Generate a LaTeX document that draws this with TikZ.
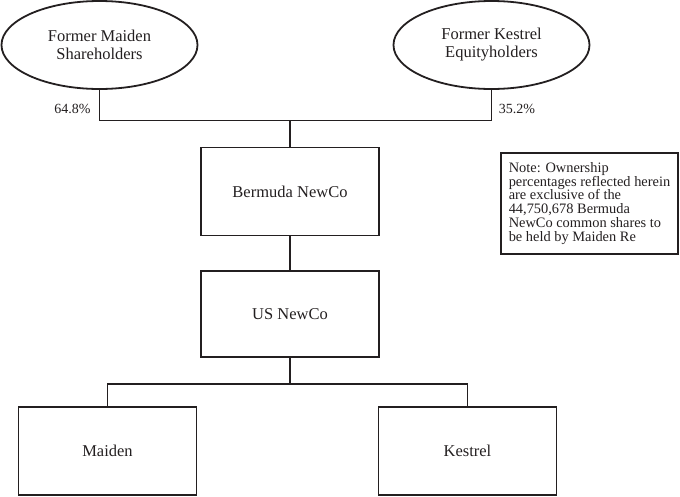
\documentclass[tikz,border=0pt]{standalone}
\usepackage{fontspec}
\setmainfont{Liberation Serif}
\usetikzlibrary{shapes.geometric}
\definecolor{ink}{HTML}{231F20}
\begin{document}
\begin{tikzpicture}[x=1pt,y=-1pt,
  owner/.style={ellipse,draw=ink,line width=1.8pt,minimum width=196pt,minimum height=88pt,inner sep=0pt,align=center,text=ink,font=\fontsize{16.5}{18}\selectfont},
  entity/.style={rectangle,draw=ink,line width=1.8pt,minimum width=178pt,minimum height=88pt,inner sep=0pt,align=center,text=ink,font=\fontsize{16.5}{18}\selectfont},
  pct/.style={text=ink,font=\fontsize{14}{16}\selectfont,inner sep=0pt},
  link/.style={draw=ink,line width=1.5pt},
  notebox/.style={rectangle,draw=ink,line width=1.8pt,minimum width=177pt,minimum height=101pt,inner xsep=8pt,inner ysep=0pt,align=left,text=ink,font=\fontsize{14.4}{13.9}\selectfont}
]
\useasboundingbox (0,0) rectangle (680,496);
\node[owner] (fm) at (99.5,45) {Former Maiden\\Shareholders};
\node[owner] (fk) at (491.5,45) {Former Kestrel\\Equityholders};
\node[pct] (p1) at (72.5,108.5) {64.8\%};
\node[pct] (p2) at (517,108.5) {35.2\%};
\node[entity] (bn) at (290,191.5) {Bermuda NewCo};
\node[entity,minimum height=86pt] (us) at (290,314) {US NewCo};
\node[entity] (ma) at (107.5,451) {Maiden};
\node[entity] (ke) at (467.5,451) {Kestrel};
\node[notebox] (note) at (589.5,203.5) {Note: Ownership\\percentages reflected herein\\are exclusive of the\\44,750,678 Bermuda\\NewCo common shares to\\be held by Maiden Re};
\coordinate (top) at (290,120.5);
\coordinate (bot) at (290,384);
\draw[link] (fm.south) |- (top) -| (fk.south);
\draw[link] (top) -- (bn.north);
\draw[link] (bn.south) -- (us.north);
\draw[link] (us.south) -- (bot);
\draw[link] (ma.north) |- (bot) -| (ke.north);
\end{tikzpicture}
\end{document}
